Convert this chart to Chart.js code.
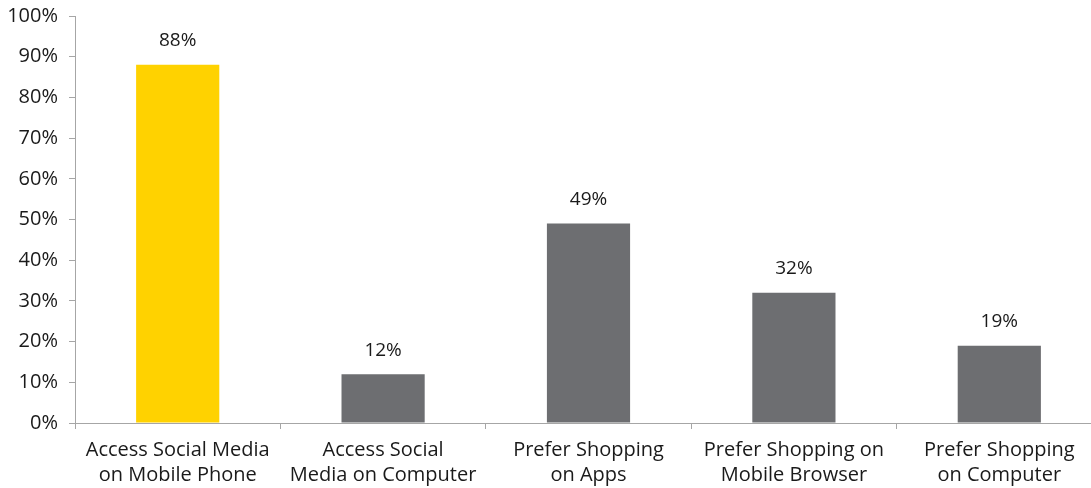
<!DOCTYPE html>
<html>
<head>
<meta charset="utf-8">
<script src="https://cdn.jsdelivr.net/npm/chart.js@4/dist/chart.umd.min.js"></script>
<style>
html,body{margin:0;padding:0;overflow:hidden;background:#fff;}
#wrap{position:relative;width:1102px;height:488px;}
</style>
</head>
<body>
<div id="wrap"><canvas id="c"></canvas></div>
<script>
const categories = [
  ["Access Social Media", "on Mobile Phone"],
  ["Access Social", "Media on Computer"],
  ["Prefer Shopping", "on Apps"],
  ["Prefer Shopping on", "Mobile Browser"],
  ["Prefer Shopping", "on Computer"]
];
const values = [88, 12, 49, 32, 19];
const barColors = ["#FFD200", "#6D6E71", "#6D6E71", "#6D6E71", "#6D6E71"];
const yTicks = [0, 10, 20, 30, 40, 50, 60, 70, 80, 90, 100];

const FONT = "'Open Sans', 'DejaVu Sans', sans-serif";
const axisColor = "#A6A6A6";
const textColor = "#1A1A1A";

const valueLabels = {
  id: "valueLabels",
  afterDatasetsDraw(chart) {
    const ctx = chart.ctx;
    const meta = chart.getDatasetMeta(0);
    ctx.save();
    ctx.font = "19px " + FONT;
    ctx.fillStyle = textColor;
    ctx.textAlign = "center";
    ctx.textBaseline = "middle";
    meta.data.forEach((bar, i) => {
      ctx.fillText(values[i] + "%", bar.x, bar.y - 24);
    });
    ctx.restore();
  }
};

new Chart(document.getElementById("c"), {
  type: "bar",
  data: {
    labels: categories,
    datasets: [{
      data: values,
      backgroundColor: barColors,
      borderWidth: 0,
      categoryPercentage: 1,
      barPercentage: 0.405
    }]
  },
  options: {
    responsive: true,
    maintainAspectRatio: false,
    animation: false,
    layout: { padding: { top: 0, left: 0, right: 0, bottom: 0 } },
    plugins: { legend: { display: false }, tooltip: { enabled: false } },
    scales: {
      x: {
        grid: {
          offset: true,
          drawOnChartArea: false,
          drawTicks: true,
          tickLength: 6,
          color: axisColor,
          lineWidth: 1
        },
        border: { color: axisColor, width: 1 },
        ticks: {
          color: textColor,
          font: { family: FONT, size: 20, lineHeight: 1.25 },
          padding: 9,
          maxRotation: 0,
          autoSkip: false
        },
        afterFit(scale) { scale.height = 65; }
      },
      y: {
        min: 0,
        max: 100,
        afterBuildTicks(scale) { scale.ticks = yTicks.map(v => ({ value: v })); },
        grid: {
          drawOnChartArea: false,
          drawTicks: true,
          tickLength: 6,
          color: axisColor,
          lineWidth: 1
        },
        border: { color: axisColor, width: 1 },
        ticks: {
          color: textColor,
          font: { family: FONT, size: 20 },
          padding: 11,
          callback: v => v + "%"
        },
        afterFit(scale) { scale.width = 75; scale.paddingTop = 16; scale.paddingBottom = 0; }
      }
    }
  },
  plugins: [valueLabels]
});
</script>
</body>
</html>
